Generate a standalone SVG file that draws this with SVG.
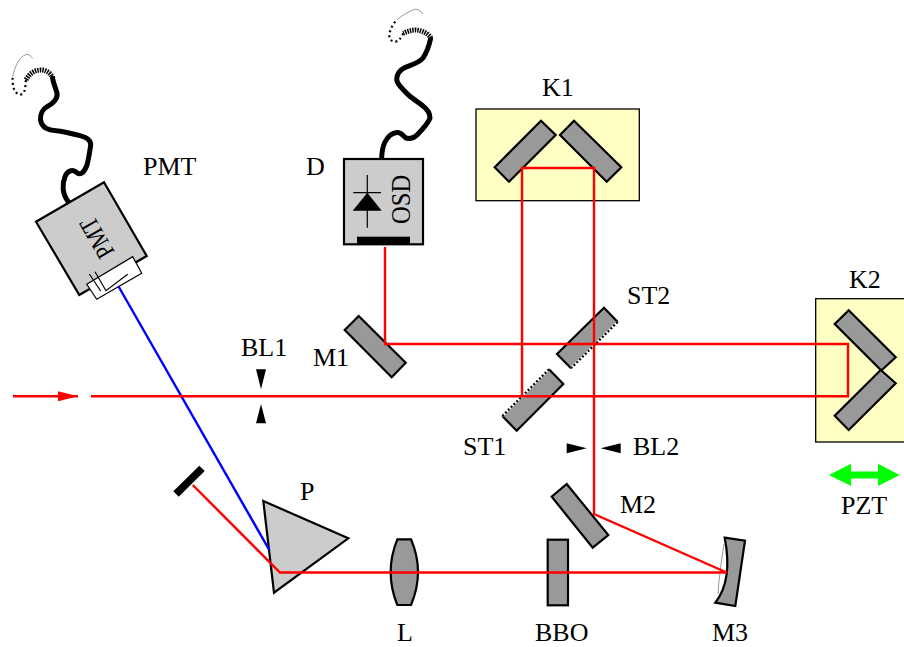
<svg xmlns="http://www.w3.org/2000/svg" width="904" height="647" viewBox="0 0 904 647">
<style>
text{font-family:"Liberation Serif","Times New Roman",serif;font-size:26px;fill:#000}
.box{fill:#ffffc4;stroke:#000;stroke-width:1.3}
.mir{fill:#999;stroke:#000;stroke-width:2.200;stroke-linejoin:miter}
.body{fill:#ccc;stroke:#000;stroke-width:2.200}
.nos{fill:#999;stroke:none}
.edge{fill:none;stroke:#000;stroke-width:2.200}
.und{fill:none;stroke:#fff;stroke-width:2.200}
.dot{fill:none;stroke:#000;stroke-width:2.200;stroke-dasharray:2 2}
.thin{fill:none;stroke:#000;stroke-width:1.2}
.cab{fill:none;stroke:#000;stroke-width:5;stroke-linecap:round;stroke-linejoin:round}
.str{fill:none;stroke:#000;stroke-width:5;stroke-dasharray:1.5 1}
.dts{fill:none;stroke:#000;stroke-width:2.200;stroke-dasharray:2 3}
.gry{fill:none;stroke:#999;stroke-width:1}
.red{fill:none;stroke:#f00;stroke-width:2.400;stroke-linejoin:miter}
.blu{fill:none;stroke:#00f;stroke-width:2.400}
</style>
<defs>
<marker id="ah" markerUnits="userSpaceOnUse" markerWidth="20" markerHeight="10" refX="20" refY="5" orient="auto"><path d="M0 0L20 5L0 10Z" fill="#f00"/></marker>
</defs>
<g id="PMT">
<path class="cab" d="M68.300 201.700C62 194 62 184 65 176.700C67 171 72 169 76 172C80 176 84 173 87 165C89 157 90 150 90.700 145C91 139 85 137 80 135.700C70 133 62 131 56.700 130.700C48 130 42 128 40.500 120C40 114 43 109 47 106.700C54 103 58 99 57 93C55 86 53 82 52.700 78.300"/>
<path class="str" d="M52.700 78.300C51 73 46 70 41 70C34 70 29 74 26 80"/>
<path class="dts" d="M26 80C25 86 26 93 21 94.500C14 95 12 85 12.700 76.700"/>
<path class="gry" d="M12.700 76.700C15 66 19 57 26 54.500C29 54 31 56 32.700 58.300"/>
<polygon class="body" points="104,182.300 146.700,256 79.300,295 36,221.700"/>
<text transform="translate(115,252) rotate(-120) scale(.8,1)">PMT</text>
<polygon fill="#fff" stroke="#000" stroke-width="1.200" points="86.700,284.300 132.700,256.700 141.700,273.300 96.700,299.300"/>
<polyline class="thin" points="89.300,274 100.700,291"/>
<polyline class="thin" points="95,271.700 106,290.700 127.700,274.300"/>
<text x="143" y="175">PMT</text>
</g>
<g id="D">
<path class="cab" d="M381.700 157C382 150 383 146 385 142C388 136 392 133 397 132.500C402 132 403 137 407 138.300C411 139 414 138 417 135C423 129 428 123 430 118.300C430 114 427 109 423 106C417 101 411 98 406.700 93.300C402 88 396.500 84 396.700 79C397 73 400 70 405 67.500C411 65 419 63 423 58C427 52 429 46 430.500 39"/>
<path class="str" d="M431 38.300C428 33 422 30.500 416 30C411 30 407 31.500 403.300 33.300"/>
<path class="dts" d="M403.300 33.300C401 38 399 41 395.500 41.700C391 42 389 38 389.300 35C390 29 393 24 396.700 20"/>
<path class="gry" d="M396.700 20C401 16 408 12 414 9.500C418 8.500 421 11 422.700 14.300"/>
<rect class="body" x="344" y="159" width="79" height="85.300"/>
<rect x="357" y="236.700" width="53" height="7.600" fill="#000"/>
<polygon fill="#000" points="367.300,192.700 381.700,210.700 352.700,210.700"/>
<path class="thin" d="M367.300 175V227.700M353.300 192.700H381"/>
<text transform="translate(410,224) rotate(-90) scale(.91,1)" style="font-size:27px">OSD</text>
<text x="306" y="175">D</text>
</g>
<g id="K1">
<rect class="box" x="476" y="109" width="163.300" height="91.700"/>
<polygon class="mir" points="541,120.700 555.700,135 509,181.700 494.700,167.300"/>
<polygon class="mir" points="574,120.700 560,135 606.700,181.700 621.300,167.300"/>
<text x="542" y="96">K1</text>
</g>
<g id="K2">
<rect class="box" x="815.700" y="298.700" width="92" height="143.300"/>
<polygon class="mir" points="848.700,310.300 834.700,324 881.300,370.500 895.700,357.300"/>
<polygon class="mir" points="895.700,383.300 880.700,370 834.700,415.700 848.700,430"/>
<text x="849" y="288">K2</text>
</g>
<g id="PZT">
<polygon fill="#0f0" points="829,475 851,463.700 851,471.500 878,471.500 878,463.700 899.700,475 878,486 878,478.500 851,478.500 851,486"/>
<text x="841" y="514">PZT</text>
</g>
<g id="M1">
<polygon class="mir" points="358.700,316 405.700,362.700 391.700,377.300 344.700,330"/>
<text x="313" y="366">M1</text>
</g>
<g id="ST2">
<polygon class="nos" points="604,307.700 617.700,322 571,368.300 557,354"/>
<polyline class="edge" points="617.700,322 604,307.700 557,354 571,368.300"/>
<path class="und" d="M617.700 322L571 368.300"/>
<path class="dot" d="M617.700 322L571 368.300"/>
<text x="627" y="304">ST2</text>
</g>
<g id="ST1">
<polygon class="nos" points="549,369.300 563.300,384 516.700,430.700 502.300,416"/>
<polyline class="edge" points="549,369.300 563.300,384 516.700,430.700 502.300,416"/>
<path class="und" d="M549 369.300L502.300 416"/>
<path class="dot" d="M549 369.300L502.300 416"/>
<text x="463" y="455">ST1</text>
</g>
<g id="BL1">
<polygon fill="#000" points="256,369.300 266,369.300 261,389.300"/>
<polygon fill="#000" points="256,423.300 266,423.300 261,404"/>
<text x="241" y="356">BL1</text>
</g>
<g id="BL2">
<polygon fill="#000" points="566.700,443.300 586.700,448.300 566.700,453.300"/>
<polygon fill="#000" points="620.700,443.300 600.700,448.300 620.700,453.300"/>
<text x="633" y="455">BL2</text>
</g>
<g id="M2">
<polygon class="mir" points="566.700,484 608.300,535 592.700,547.700 551.700,496.700"/>
<text x="620" y="513">M2</text>
</g>
<g id="M3">
<path class="gry" d="M724 544Q719 575 718 594" stroke-width=".5"/>
<path class="mir" d="M724.700 537.700L745 540.700L735.300 606L715.300 602.700Q733 580 724.700 537.700Z"/>
<text x="712" y="641">M3</text>
</g>
<g id="BBO">
<rect class="mir" x="547.700" y="539.700" width="20.300" height="65.600"/>
<text x="535" y="641">BBO</text>
</g>
<g id="L">
<path class="mir" d="M397.300 539.300H411Q425 572 411 605H397.300Q384 572 397.300 539.300Z"/>
<text x="397" y="641">L</text>
</g>
<g id="P">
<polygon class="body" points="263.300,501 348.300,538.300 274,592.700"/>
<text x="300" y="500">P</text>
</g>
<g id="BeamStop">
<polygon fill="#000" points="199.300,465.700 204.700,471 178.700,496.700 173.300,491.300"/>
</g>
<g id="connectors">
<path class="blu" d="M118.300 286L269.300 550"/>
<path class="red" d="M13 396.300H78" marker-end="url(#ah)"/>
<path class="red" d="M91 396.300H848V344H385V247"/>
<path class="red" d="M522 396.300V168H594V514L726.700 572.500H280L192.700 485"/>
</g>
</svg>
